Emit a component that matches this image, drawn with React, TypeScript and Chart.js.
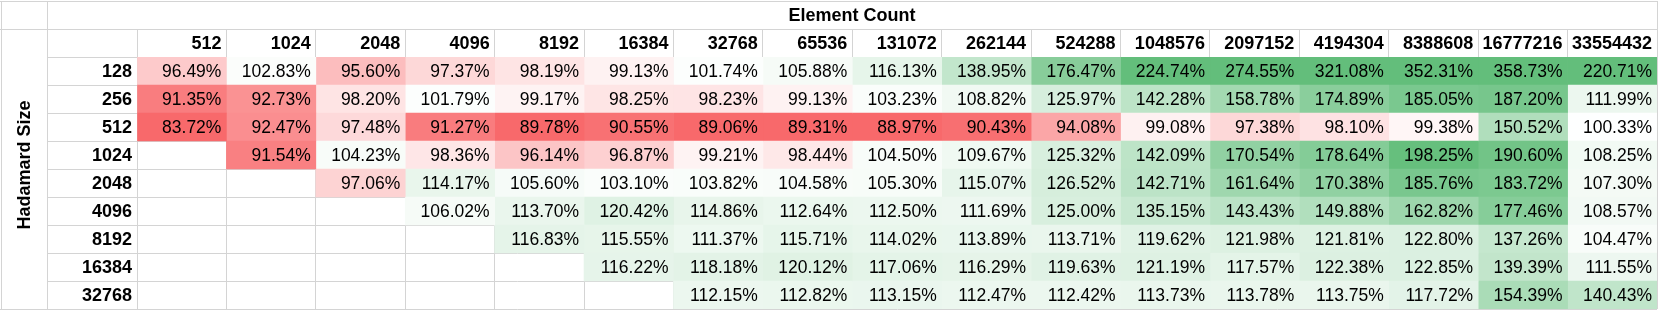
import React, { useEffect, useRef } from 'react';
import { Chart, registerables } from 'chart.js';

Chart.register(...registerables);

// ---------- data ----------
const elementCounts = [
  '512', '1024', '2048', '4096', '8192', '16384', '32768', '65536', '131072',
  '262144', '524288', '1048576', '2097152', '4194304', '8388608', '16777216', '33554432',
];
const hadamardSizes = ['128', '256', '512', '1024', '2048', '4096', '8192', '16384', '32768'];

const row128 = [96.49, 102.83, 95.6, 97.37, 98.19, 99.13, 101.74, 105.88, 116.13, 138.95, 176.47, 224.74, 274.55, 321.08, 352.31, 358.73, 220.71];
const row256 = [91.35, 92.73, 98.2, 101.79, 99.17, 98.25, 98.23, 99.13, 103.23, 108.82, 125.97, 142.28, 158.78, 174.89, 185.05, 187.2, 111.99];
const row512 = [83.72, 92.47, 97.48, 91.27, 89.78, 90.55, 89.06, 89.31, 88.97, 90.43, 94.08, 99.08, 97.38, 98.1, 99.38, 150.52, 100.33];
const row1024 = [null, 91.54, 104.23, 98.36, 96.14, 96.87, 99.21, 98.44, 104.5, 109.67, 125.32, 142.09, 170.54, 178.64, 198.25, 190.6, 108.25];
const row2048 = [null, null, 97.06, 114.17, 105.6, 103.1, 103.82, 104.58, 105.3, 115.07, 126.52, 142.71, 161.64, 170.38, 185.76, 183.72, 107.3];
const row4096 = [null, null, null, 106.02, 113.7, 120.42, 114.86, 112.64, 112.5, 111.69, 125.0, 135.15, 143.43, 149.88, 162.82, 177.46, 108.57];
const row8192 = [null, null, null, null, 116.83, 115.55, 111.37, 115.71, 114.02, 113.89, 113.71, 119.62, 121.98, 121.81, 122.8, 137.26, 104.47];
const row16384 = [null, null, null, null, null, 116.22, 118.18, 120.12, 117.06, 116.29, 119.63, 121.19, 117.57, 122.38, 122.85, 139.39, 111.55];
const row32768 = [null, null, null, null, null, null, 112.15, 112.82, 113.15, 112.47, 112.42, 113.73, 113.78, 113.75, 117.72, 154.39, 140.43];

const values: (number | null)[][] = [row128, row256, row512, row1024, row2048, row4096, row8192, row16384, row32768];

const xTitle = 'Element Count';
const yTitle = 'Hadamard Size';

// ---------- colour scale (red - white - green) ----------
const RED = [248, 105, 107];
const WHITE = [255, 255, 255];
const GREEN = [99, 190, 123];
const SCALE_MIN = 90;
const SCALE_MID = 100;
const SCALE_MAX = 200;

function mix(a: number[], b: number[], t: number) {
  const c = a.map((v, i) => Math.round(v + (b[i] - v) * t));
  return `rgb(${c[0]},${c[1]},${c[2]})`;
}
function cellColor(v: number) {
  if (v <= SCALE_MID) {
    const t = Math.min(1, Math.max(0, (SCALE_MID - v) / (SCALE_MID - SCALE_MIN)));
    return mix(WHITE, RED, t);
  }
  const t = Math.min(1, Math.max(0, (v - SCALE_MID) / (SCALE_MAX - SCALE_MID)));
  return mix(WHITE, GREEN, t);
}

const FONT = '"Liberation Sans", Arial, sans-serif';
const GRID = '#D4D4D4';

export default function App() {
  const ref = useRef<HTMLCanvasElement>(null);

  useEffect(() => {
    document.body.style.margin = '0';
    const canvas = ref.current;
    if (!canvas) return;

    const datasets = elementCounts.map((label, j) => ({
      label,
      data: values.map((row) => (row[j] == null ? null : [j, j + 1])),
      backgroundColor: values.map((row) => (row[j] == null ? 'rgba(0,0,0,0)' : cellColor(row[j] as number))),
      borderWidth: 0,
      grouped: false,
      barPercentage: 1,
      categoryPercentage: 1,
    }));

    const cellText = {
      id: 'cellText',
      afterDatasetsDraw(chart: any) {
        const ctx = chart.ctx;
        ctx.save();
        ctx.font = `17.5px ${FONT}`;
        ctx.fillStyle = '#000';
        ctx.textAlign = 'right';
        ctx.textBaseline = 'middle';
        elementCounts.forEach((_, j) => {
          const meta = chart.getDatasetMeta(j);
          meta.data.forEach((el: any, i: number) => {
            const v = values[i][j];
            if (v == null) return;
            const p = el.getProps(['x', 'base', 'y'], true);
            ctx.fillText(v.toFixed(2) + '%', Math.max(p.x, p.base) - 5, p.y + 1);
          });
        });
        ctx.restore();
      },
    };

    const frame = {
      id: 'frame',
      afterDraw(chart: any) {
        const ctx = chart.ctx;
        const area = chart.chartArea;
        const left = 47;
        const top = 29;
        const right = Math.round(area.right);
        const bottom = Math.round(area.bottom);
        ctx.save();
        ctx.fillStyle = GRID;
        ctx.fillRect(0, 1, right + 1, 1); // top border
        ctx.fillRect(1, 1, 1, bottom); // left border
        ctx.fillRect(left, 1, 1, bottom); // corner divider
        ctx.fillRect(0, top, right + 1, 1); // title row bottom
        ctx.fillRect(0, bottom, left, 1); // bottom of merged y-title cell
        ctx.fillRect(right, 1, 1, top); // right border of title row
        ctx.fillStyle = '#000';
        ctx.font = `bold 18px ${FONT}`;
        ctx.textAlign = 'center';
        ctx.textBaseline = 'middle';
        ctx.fillText(xTitle, (left + right) / 2, 16);
        ctx.translate(25, 165);
        ctx.rotate(-Math.PI / 2);
        ctx.fillText(yTitle, 0, 0);
        ctx.restore();
      },
    };

    const chart = new Chart(canvas, {
      type: 'bar',
      data: { labels: hadamardSizes, datasets: datasets as any },
      options: {
        indexAxis: 'y',
        responsive: false,
        animation: false,
        events: [],
        layout: { padding: { top: 29, left: 47, right: 4, bottom: 1 } },
        plugins: { legend: { display: false }, tooltip: { enabled: false } },
        scales: {
          x: {
            type: 'linear',
            position: 'top',
            min: 0,
            max: elementCounts.length,
            afterBuildTicks: (axis: any) => {
              axis.ticks = Array.from({ length: elementCounts.length + 1 }, (_, k) => ({ value: k }));
            },
            afterFit: (axis: any) => {
              axis.height = 28;
              axis.paddingLeft = 0;
              axis.paddingRight = 0;
            },
            grid: { color: GRID, lineWidth: 1, tickLength: 28, drawTicks: true, tickColor: GRID },
            border: { display: true, color: GRID },
            ticks: {
              autoSkip: false,
              maxRotation: 0,
              minRotation: 0,
              align: 'end',
              labelOffset: -5,
              padding: -24,
              color: '#000',
              font: { family: FONT, size: 18, weight: 'bold', lineHeight: 1 },
              callback: (value: any) => (value >= 1 ? elementCounts[Number(value) - 1] : ''),
            },
          },
          y: {
            type: 'category',
            position: 'left',
            offset: true,
            afterFit: (axis: any) => {
              axis.width = 90;
              axis.paddingTop = 0;
              axis.paddingBottom = 0;
            },
            grid: { color: GRID, lineWidth: 1, offset: true, tickLength: 90, drawTicks: true, tickColor: GRID },
            border: { display: true, color: GRID },
            ticks: {
              autoSkip: false,
              padding: -85,
              labelOffset: 1,
              color: '#000',
              font: { family: FONT, size: 18, weight: 'bold', lineHeight: 1 },
            },
          },
        },
      } as any,
      plugins: [cellText, frame],
    });

    return () => chart.destroy();
  }, []);

  return <canvas ref={ref} width={1661} height={310} style={{ display: 'block', width: 1661, height: 310 }} />;
}
